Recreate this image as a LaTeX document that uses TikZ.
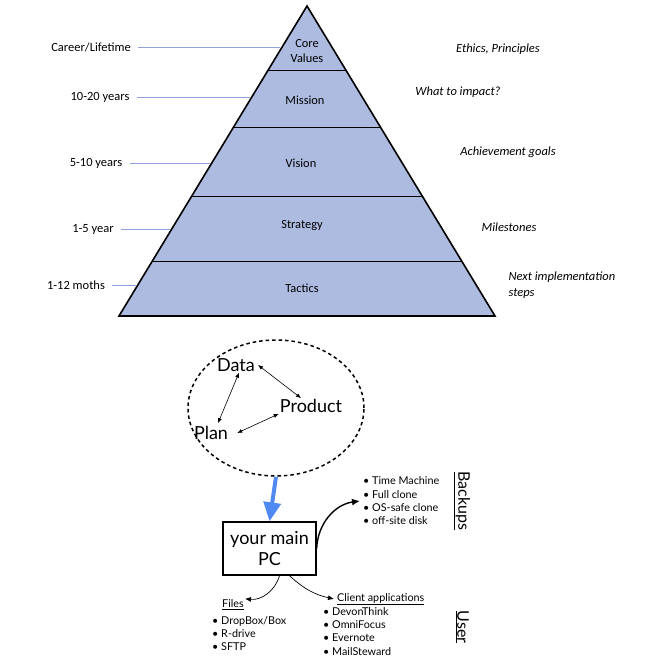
\documentclass[tikz,border=0pt]{standalone}
\usepackage{fontspec}
\setmainfont{Carlito}
\newfontfamily\gillfont{Lato}
\usetikzlibrary{positioning,arrows.meta,shapes.geometric,calc}
\definecolor{pyrFill}{HTML}{AEBBE1}
\definecolor{tickBlue}{HTML}{8FA1DA}
\definecolor{flowBlue}{HTML}{5089F2}
\tikzset{
  layer/.style={font=\fontsize{12.4}{14.5}\selectfont, align=center},
  horizon/.style={font=\fontsize{12.5}{14}\selectfont, anchor=center},
  focus/.style={font=\fontsize{12.5}{15.5}\selectfont\itshape, align=left},
  tick/.style={tickBlue, line width=0.9pt},
  concept/.style={font=\gillfont\fontsize{18}{20}\selectfont, inner sep=1pt},
  twoway/.style={{Latex[length=5pt,width=4pt]}-{Latex[length=5pt,width=4pt]}, line width=0.6pt},
  listing/.style={font=\gillfont\fontsize{10.8}{13.3}\selectfont, align=left, inner sep=0pt},
  heading/.style={font=\gillfont\fontsize{10.8}{13}\selectfont, inner sep=1pt},
  sidetag/.style={font=\gillfont\fontsize{16}{18}\selectfont, rotate=-90, inner sep=0pt},
  branch/.style={-{Latex[length=6pt,width=5pt]}, line width=0.7pt},
}

\begin{document}
\begin{tikzpicture}[x=1pt, y=-1pt]
\useasboundingbox (0,0) rectangle (664,664);

% ---------- pyramid ----------
\coordinate (apex) at (307,6);
\coordinate (bl) at (119,316);
\coordinate (br) at (495,316);
\fill[pyrFill] (apex) -- (bl) -- (br) -- cycle;
\foreach \t in {0.2065,0.3903,0.6129,0.8226}
  \draw[line width=0.9pt] ($(apex)!\t!(bl)$) -- ($(apex)!\t!(br)$);
\draw[line width=1.6pt, line join=miter] (apex) -- (bl) -- (br) -- cycle;

\node[layer] (core) at (307,51) {Core\\Values};
\node[layer] (mission) at (305,100) {Mission};
\node[layer] (vision) at (301,163) {Vision};
\node[layer] (strategy) at (302,226) {Strategy};
\node[layer] (tactics) at (302,288) {Tactics};

% ---------- time horizons ----------
\node[horizon] (h1) at (91,47) {Career/Lifetime};
\node[horizon] (h2) at (100,97) {10-20 years};
\node[horizon] (h3) at (96,163) {5-10 years};
\node[horizon] (h4) at (93,229) {1-5 year};
\node[horizon] (h5) at (76,285) {1-12 moths};

\coordinate (e1) at ($(apex)!0.132!(bl)$);
\coordinate (e2) at ($(apex)!0.2935!(bl)$);
\coordinate (e3) at ($(apex)!0.5065!(bl)$);
\coordinate (e4) at ($(apex)!0.7194!(bl)$);
\coordinate (e5) at ($(apex)!0.90!(bl)$);
\foreach \i in {1,...,5}
  \draw[tick] ([xshift=4pt]h\i.east) -- ([xshift=-2pt]h\i.east -| e\i);

% ---------- focus ----------
\node[focus] (f1) at (498,49) {Ethics, Principles};
\node[focus] (f2) at (458,92) {What to impact?};
\node[focus] (f3) at (508,152) {Achievement goals};
\node[focus] (f4) at (509,227) {Milestones};
\node[focus, anchor=west] (f5) at (505,285) {Next implementation\\steps};

% ---------- data / plan / product ----------
\node[draw, ellipse, line width=1.5pt, dash pattern=on 3.5pt off 3pt,
      minimum width=176, minimum height=136] (cloud) at (276,408) {};
\node[concept] (data) at (236,365) {Data};
\node[concept] (product) at (311,406) {Product};
\node[concept] (plan) at (211,433) {Plan};
\draw[twoway] ([xshift=2pt]data.east) -- ([xshift=-10pt]product.north);
\draw[twoway] ([xshift=3pt]data.south) -- ([xshift=7pt,yshift=2pt]plan.north);
\draw[twoway] ([xshift=8pt]plan.east) -- (product.south west);

% ---------- main PC ----------
\node[draw, line width=1.3pt, minimum width=93, minimum height=53, align=center,
      font=\gillfont\fontsize{18}{21}\selectfont, inner sep=2pt] (pc) at (269.5,548.5)
  {your main\\PC};
\draw[flowBlue, line width=4pt, -{Triangle[length=19pt,width=17pt]}]
  (cloud.south) -- (pc.north);

% ---------- backups ----------
\node[listing, anchor=west] (bk) at (363,501)
  {\textbullet\ Time Machine\\
   \textbullet\ Full clone\\
   \textbullet\ OS-safe clone\\
   \textbullet\ off-site disk};
\draw[-{Latex[length=8pt,width=7pt]}, line width=1.4pt]
  (pc.east) to[bend left=40] ([xshift=-3pt]bk.west);
\node[sidetag] (backups) at (462,501) {\underline{Backups}};

% ---------- user ----------
\node[heading] (files) at (233,605) {\underline{Files}};
\node[listing, anchor=north west] (filelist) at (212,616)
  {\textbullet\ DropBox/Box\\
   \textbullet\ R-drive\\
   \textbullet\ SFTP};
\node[heading, anchor=west] (client) at (336,599) {\underline{Client applications}};
\node[listing, anchor=north west] (clientlist) at (323,607)
  {\textbullet\ DevonThink\\
   \textbullet\ OmniFocus\\
   \textbullet\ Evernote\\
   \textbullet\ MailSteward};
\draw[branch] ([xshift=10pt]pc.south) to[bend left=40] (files.north east);
\draw[branch] ([xshift=20pt]pc.south) to[bend right=15] ([xshift=-2pt]client.west);
\node[sidetag] (user) at (462,627) {\underline{User}};

\end{tikzpicture}
\end{document}
